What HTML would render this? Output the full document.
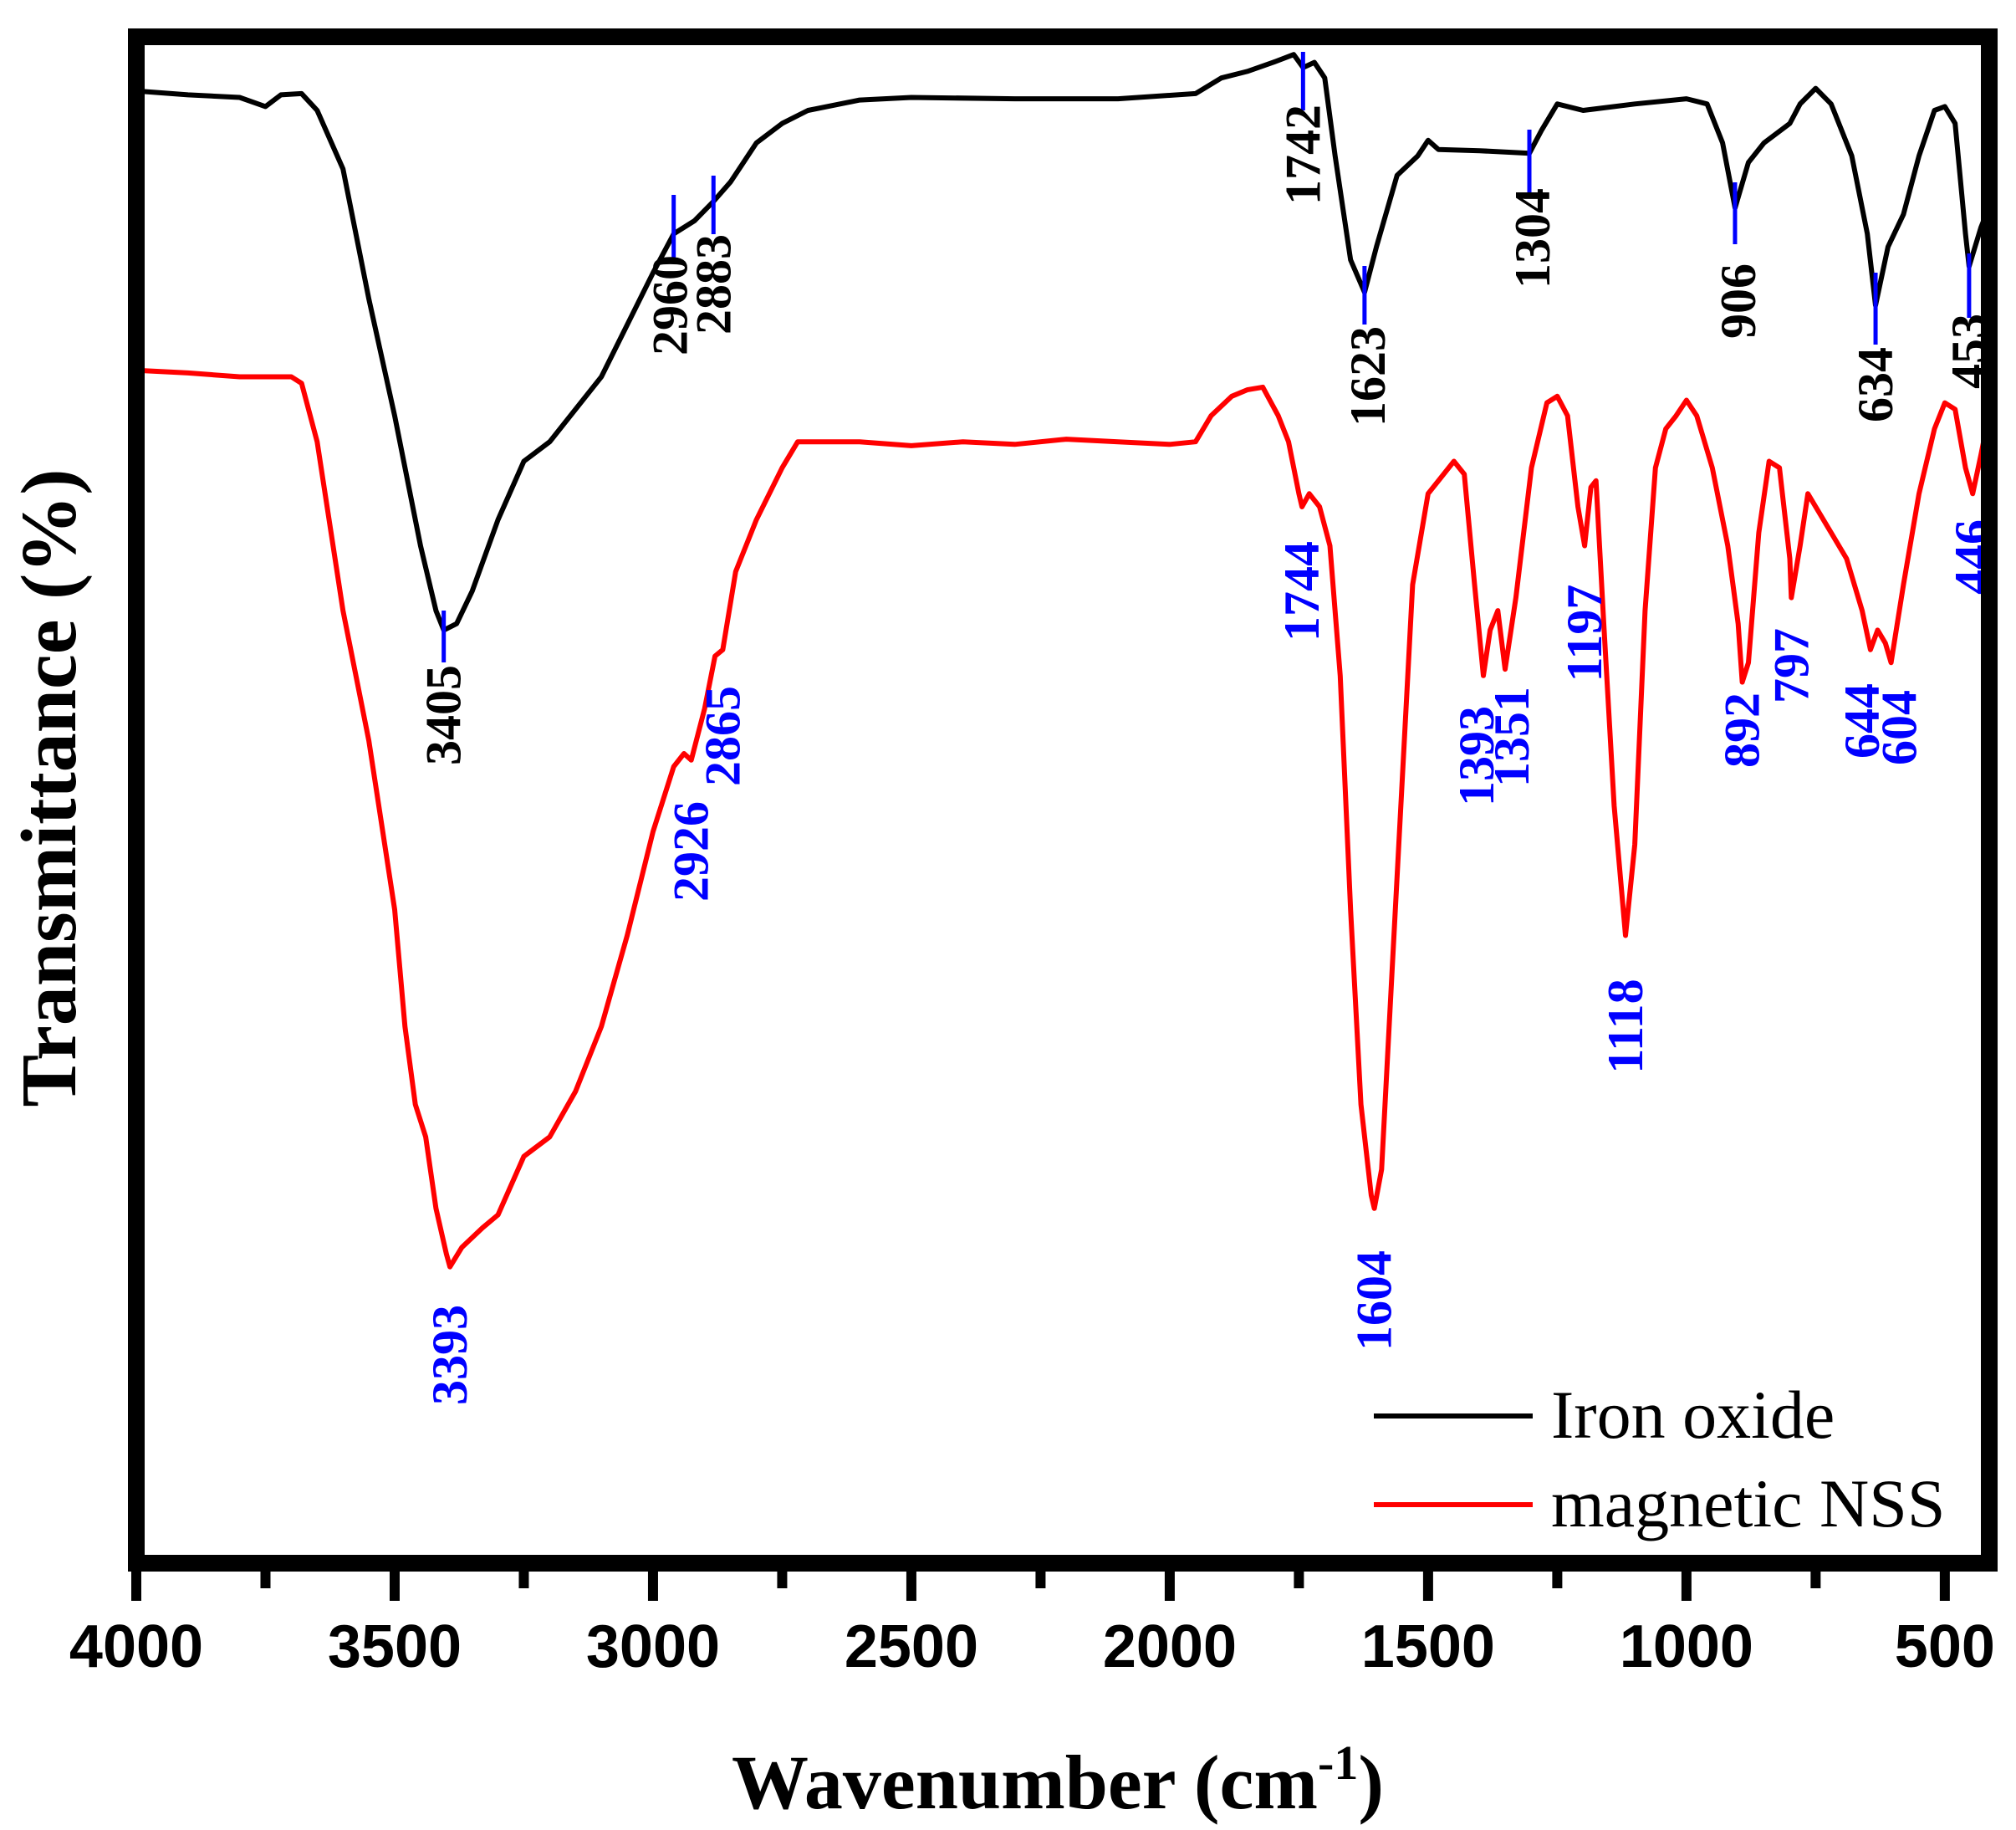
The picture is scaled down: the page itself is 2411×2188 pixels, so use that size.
<!DOCTYPE html>
<html><head><meta charset="utf-8"><style>
html,body{margin:0;padding:0;background:#fff}
svg{display:block}
</style></head><body>
<svg id="chart" width="2411" height="2188" viewBox="0 0 2411 2188" xmlns="http://www.w3.org/2000/svg">
<g id="plot"></g>
</svg>
<script>
const blackWn=[4000,3900,3800,3750,3720,3680,3650,3600,3550,3500,3450,3420,3405,3380,3350,3300,3250,3200,3100,3000,2960,2920,2883,2850,2800,2750,2700,2600,2500,2300,2100,1950,1900,1850,1800,1760,1742,1720,1700,1680,1650,1623,1600,1560,1520,1500,1480,1400,1304,1280,1250,1200,1100,1000,960,930,906,880,850,800,780,750,720,680,650,634,610,580,550,520,500,480,460,453,430,410];
const blackT=[114,113.7,113.5,112.8,113.7,113.8,112.5,108,98,89,79,74,72.5,73,75.5,81,85.5,87,92,100,103,104,105.5,107,110,111.5,112.5,113.3,113.5,113.4,113.4,113.8,115,115.5,116.2,116.8,115.8,116.2,115,109,101,98.5,102,107.5,109,110.2,109.5,109.4,109.2,111,113,112.5,113,113.4,113,110,105,108.5,110,111.5,113,114.2,113,109,103,97.5,102,104.5,109,112.5,112.8,111.5,103,100.5,103.5,105.5];
const redWn=[4000,3900,3800,3700,3680,3650,3600,3550,3500,3480,3460,3440,3420,3400,3393,3370,3330,3300,3250,3200,3150,3100,3050,3000,2960,2940,2926,2900,2880,2865,2840,2800,2750,2720,2700,2600,2500,2400,2300,2200,2100,2000,1950,1920,1880,1850,1820,1790,1770,1750,1744,1730,1710,1690,1670,1650,1630,1610,1604,1590,1570,1550,1530,1500,1480,1450,1430,1410,1393,1380,1365,1351,1330,1300,1270,1250,1230,1210,1197,1185,1175,1160,1140,1118,1100,1080,1060,1040,1020,1000,980,950,920,900,892,880,860,840,820,800,797,780,765,750,720,690,660,644,630,615,604,580,550,520,500,480,460,446,430,410];
const redT=[92.5,92.3,92,92,91.5,87,74,64,51,42,36,33.5,28,24.5,23.5,25,26.5,27.5,32,33.5,37,42,49,57,62,63,62.5,66.5,70.5,71,77,81,85,87,87,87,86.7,87,86.8,87.2,87,86.8,87,89,90.5,91,91.2,89,87,83,82,83,82,79,69,51,36,29,28,31,46,61,76,83,84,85.5,84.5,76,69,72.5,74,69.5,75,85,90,90.5,89,82,79,83.5,84,73,59,49,56,74,85,88,89,90.2,89,85,79,73,68.5,70,80,85.5,85,78,75,79,83,82,80,78,74,71,72.5,71.5,70,76,83,88,90,89.5,85,83,86,90];
const xTicks=[4000,3500,3000,2500,2000,1500,1000,500];
const xMinor=[3750,3250,2750,2250,1750,1250,750];
const blackPeaks=[1742,2960,2883,1623,1304,906,634,453,3405];
const blackPeakLabels=["1742","2960","2883","1623","1304","906","634","453","3405"];
const redPeaks=[1744,1393,1351,1197,1118,1604,892,797,644,604,446,3393,2926,2865];
const redPeakLabels=["1744","1393","1351","1197","1118","1604","892","797","644","604","446","3393","2926","2865"];
// annotation layout (pixel y of label centers / marker spans)
const blackLabelY=[185,365,340,450,285,360,460,420,855];
const blackMarkY=[[62,132],[233,308],[210,280],[318,388],[155,233],[218,292],[326,412],[303,380],[730,792]];
const blackLabelDx=[0,-4,0,4,4,4,0,0,0];
const redLabelY=[707,904,881,757,1227,1555,873,796,862,870,666,1620,1018,880];
const redLabelDx=[0,-8,8,0,0,0,0,0,-10,10,0,0,0,0];

const NS="http://www.w3.org/2000/svg";
const g=document.getElementById('plot');
const X0=163,X1=2379,Y0=54,Y1=1869;
function xs(w){return X0+(4000-w)/(4000-414)*(X1-X0);}
function ys(v){return (1210-v*10)*1.5535;}
function mk(tag,attrs,parent){const e=document.createElementNS(NS,tag);for(const k in attrs)e.setAttribute(k,attrs[k]);(parent||g).appendChild(e);return e;}
function path(wn,t){return wn.map((w,i)=>(i?'L':'M')+xs(w).toFixed(1)+','+ys(t[i]).toFixed(1)).join(' ');}

let p=mk('path',{d:path(blackWn,blackT),fill:'none',stroke:'#000','stroke-width':6,'stroke-linejoin':'round'});


p=mk('path',{d:path(redWn,redT),fill:'none',stroke:'#ff0000','stroke-width':6,'stroke-linejoin':'round'});



blackPeaks.forEach((w,i)=>{
  const x=xs(w);
  const l=mk('line',{x1:x,x2:x,y1:blackMarkY[i][0],y2:blackMarkY[i][1],stroke:'#0000ff','stroke-width':5});
  
  
  const tx=x+blackLabelDx[i],ty=blackLabelY[i];
  const t=mk('text',{x:tx,y:ty,transform:`rotate(-90 ${tx} ${ty})`,'text-anchor':'middle','dominant-baseline':'central','font-family':'Liberation Serif, serif','font-weight':'bold','font-size':60,fill:'#000'});
  t.textContent=blackPeakLabels[i];
  
  
});
redPeaks.forEach((w,i)=>{
  const tx=xs(w)+redLabelDx[i],ty=redLabelY[i];
  const t=mk('text',{x:tx,y:ty,transform:`rotate(-90 ${tx} ${ty})`,'text-anchor':'middle','dominant-baseline':'central','font-family':'Liberation Serif, serif','font-weight':'bold','font-size':60,fill:'#0000ff'});
  t.textContent=redPeakLabels[i];
  
  
});

// frame
let f=mk('rect',{x:X0,y:Y0-10,width:X1-X0,height:Y1-Y0+10,fill:'none',stroke:'#000','stroke-width':20});


xTicks.forEach(w=>{
  const x=xs(w);
  const l=mk('line',{x1:x,x2:x,y1:Y1,y2:Y1+45,stroke:'#000','stroke-width':12});
  
  
  const t=mk('text',{x:x,y:Y1+124,'text-anchor':'middle','font-family':'Liberation Sans, sans-serif','font-weight':'bold','font-size':72,fill:'#000'});
  t.textContent=w;
  
  
});
xMinor.forEach(w=>{
  const x=xs(w);
  const l=mk('line',{x1:x,x2:x,y1:Y1,y2:Y1+30,stroke:'#000','stroke-width':12});
  
  
});
let t=mk('text',{x:1265,y:2162,'text-anchor':'middle','font-family':'Liberation Serif, serif','font-weight':'bold','font-size':92,fill:'#000'});
t.innerHTML='Wavenumber (cm<tspan dy="-35" font-size="58">-1</tspan><tspan dy="35">)</tspan>';


t=mk('text',{x:0,y:0,transform:'translate(90 942) rotate(-90)','text-anchor':'middle','font-family':'Liberation Serif, serif','font-weight':'bold','font-size':94,fill:'#000'});
t.textContent='Transmittance (%)';



// legend
const legend=mk('g',{});


[['Iron oxide','#000',1693],['magnetic NSS','#ff0000',1799]].forEach(([name,c,y])=>{
  const l=mk('line',{x1:1643,x2:1833,y1:y,y2:y,stroke:c,'stroke-width':6},legend);
  
  
  const tt=mk('text',{x:1855,y:y+26,'font-family':'Liberation Serif, serif','font-size':82,fill:'#000'},legend);
  tt.textContent=name;
  
  
});
</script>
</body></html>
